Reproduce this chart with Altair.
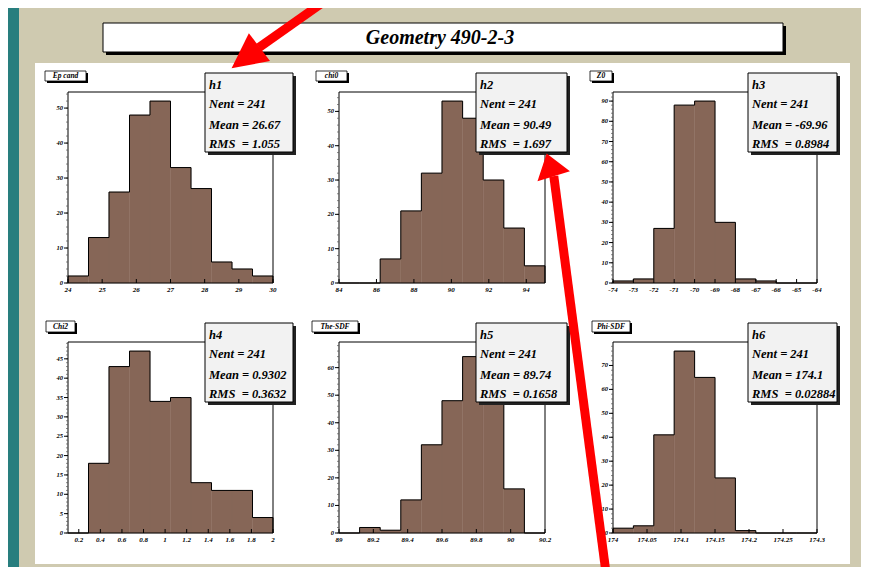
import altair as alt
import pandas as pd

# ---------------- data ----------------
title_text = "Geometry 490-2-3"
hist_names = ["h1", "h2", "h3", "h4", "h5", "h6"]
pad_titles = ["Ep cand", "chi0", "Z0", "Chi2", "The-SDF", "Phi-SDF"]
x_ranges = [[24, 30], [84, 95], [-74, -64], [0.1, 2.0], [89, 90.2], [174, 174.3]]

h1_counts = [2, 13, 26, 48, 52, 33, 27, 6, 4, 2]
h2_counts = [0, 0, 7, 21, 32, 53, 48, 30, 16, 5]
h3_counts = [1, 2, 27, 88, 90, 30, 2, 1, 0, 0]
h4_counts = [0, 18, 43, 47, 34, 35, 13, 11, 11, 4]
h5_counts = [0, 2, 1, 12, 32, 48, 64, 66, 16, 0]
h6_counts = [2, 3, 41, 76, 65, 23, 1, 0, 0, 0]
counts = [h1_counts, h2_counts, h3_counts, h4_counts, h5_counts, h6_counts]

x_tick_values = [
    [24, 25, 26, 27, 28, 29, 30],
    [84, 86, 88, 90, 92, 94],
    [-74, -73, -72, -71, -70, -69, -68, -67, -66, -65, -64],
    [0.2, 0.4, 0.6, 0.8, 1.0, 1.2, 1.4, 1.6, 1.8, 2.0],
    [89.0, 89.2, 89.4, 89.6, 89.8, 90.0, 90.2],
    [174.0, 174.05, 174.1, 174.15, 174.2, 174.25, 174.3],
]
x_tick_labels = [
    ["24", "25", "26", "27", "28", "29", "30"],
    ["84", "86", "88", "90", "92", "94"],
    ["-74", "-73", "-72", "-71", "-70", "-69", "-68", "-67", "-66", "-65", "-64"],
    ["0.2", "0.4", "0.6", "0.8", "1", "1.2", "1.4", "1.6", "1.8", "2"],
    ["89", "89.2", "89.4", "89.6", "89.8", "90", "90.2"],
    ["174", "174.05", "174.1", "174.15", "174.2", "174.25", "174.3"],
]
y_tick_values = [
    [0, 10, 20, 30, 40, 50],
    [0, 10, 20, 30, 40, 50],
    [0, 10, 20, 30, 40, 50, 60, 70, 80, 90],
    [0, 5, 10, 15, 20, 25, 30, 35, 40, 45],
    [0, 10, 20, 30, 40, 50, 60],
    [0, 10, 20, 30, 40, 50, 60, 70],
]
nent_values = ["241", "241", "241", "241", "241", "241"]
mean_values = ["26.67", "90.49", "-69.96", "0.9302", "89.74", "174.1"]
rms_values = ["1.055", "1.697", "0.8984", "0.3632", "0.1658", "0.02884"]

# ---------------- layout / style ----------------
W, H = 853, 559
FONT = "Liberation Serif, Times New Roman, serif"
BROWN = "#866657"
BEIGE = "#cfcab0"
TEAL = "#287e7e"
RED = "#ff0000"
COL_L = [60, 331, 605]
COL_R = [265, 537, 809]
ROW_T = [84, 334]
ROW_B = [275, 525]
STAT_L = [197, 468, 740]
STAT_R = [285, 559, 829]
STAT_T = [65, 315]
STAT_B = [144, 394]
PADLAB_X = [(37, 78), (308, 339), (582, 604), (38, 67), (304, 350), (584, 622)]
PADLAB_T = [63, 313]
PADLAB_B = [73, 324]
NB = "\u00a0"


def px(name):
    return alt.X(name, type="quantitative", scale=None, axis=None)


def py(name):
    return alt.Y(name, type="quantitative", scale=None, axis=None)


def rect_layer(rows, fill, stroke=None, sw=1.0):
    df = pd.DataFrame(rows, columns=["x", "x2", "y", "y2"])
    if stroke:
        mk = alt.Chart(df).mark_rect(fill=fill, stroke=stroke, strokeWidth=sw)
    else:
        mk = alt.Chart(df).mark_rect(fill=fill, strokeWidth=0)
    return mk.encode(x=px("x"), x2="x2:Q", y=py("y"), y2="y2:Q")


def text_layer(rows, size, align="left"):
    df = pd.DataFrame(rows, columns=["x", "y", "t"])
    return alt.Chart(df).mark_text(
        font=FONT, fontStyle="italic", fontWeight="bold", fontSize=size,
        align=align, baseline="middle", color="black"
    ).encode(x=px("x"), y=py("y"), text="t:N")


layers = []

# canvas decorations
layers.append(rect_layer([(0, 11, 0, H)], TEAL))
layers.append(rect_layer([(27, 842, 55, 556)], "white"))
layers.append(rect_layer([(0, W, 563, H + 5)], "#a9a27c"))

# title box
layers.append(rect_layer([(98, 778, 18, 47)], "black"))
layers.append(rect_layer([(95, 775, 15, 44)], "white", "black", 1))
layers.append(text_layer([(432, 30, title_text)], 20, "center"))

# pad title labels
pl_rows_sh, pl_rows, pl_txt = [], [], []
for i, (a, b) in enumerate(PADLAB_X):
    r = i // 3
    pl_rows_sh.append((a + 2, b + 2, PADLAB_T[r] + 2, PADLAB_B[r] + 2))
    pl_rows.append((a, b, PADLAB_T[r], PADLAB_B[r]))
    pl_txt.append(((a + b) / 2, (PADLAB_T[r] + PADLAB_B[r]) / 2, pad_titles[i]))
layers.append(rect_layer(pl_rows_sh, "black"))
layers.append(rect_layer(pl_rows, "white", "black", 0.8))
layers.append(text_layer(pl_txt, 7.5, "center"))


def panel(i):
    c = counts[i]
    lo, hi = x_ranges[i]
    n = len(c)
    w = (hi - lo) / n
    edges = [lo + k * w for k in range(n + 1)]
    ymax = 1.05 * max(c)
    col, row = i % 3, i // 3
    L, R, T, B = COL_L[col], COL_R[col], ROW_T[row], ROW_B[row]
    xs = alt.Scale(domain=[lo, hi], range=[L, R], nice=False, zero=False)
    ys = alt.Scale(domain=[0, ymax], range=[B, T], nice=False, zero=False)

    bars_df = pd.DataFrame({"lo": edges[:-1], "hi": edges[1:], "count": c, "zero": [0] * n})
    bars = alt.Chart(bars_df).mark_rect(fill=BROWN, stroke=BROWN, strokeWidth=0.4).encode(
        x=alt.X("lo:Q", scale=xs, axis=None), x2="hi:Q",
        y=alt.Y("count:Q", scale=ys, axis=None), y2="zero:Q")

    ox = [edges[0]] + edges[:-1] + [edges[-1], edges[-1]]
    oy = [0] + list(c) + [c[-1], 0]
    out_df = pd.DataFrame({"idx": list(range(len(ox))), "x": ox, "y": oy})
    outline = alt.Chart(out_df).mark_line(
        interpolate="step-after", color="black", strokeWidth=1).encode(
        x=alt.X("x:Q", scale=xs, axis=None), y=alt.Y("y:Q", scale=ys, axis=None),
        order="idx:Q")

    fr_df = pd.DataFrame({"a": [lo], "b": [hi], "c": [0], "d": [ymax]})
    frame = alt.Chart(fr_df).mark_rect(fill="white", fillOpacity=0, stroke="black", strokeWidth=1).encode(
        x=alt.X("a:Q", scale=xs, axis=None), x2="b:Q",
        y=alt.Y("c:Q", scale=ys, axis=None), y2="d:Q")

    yt = y_tick_values[i]
    step = yt[1] - yt[0]
    minor = []
    v = 0.0
    while v <= ymax + 1e-9:
        minor.append(v)
        v += step / 5
    ymin_df = pd.DataFrame({"v": minor})
    yminor = alt.Chart(ymin_df).mark_rule(color="#555555", strokeWidth=0.7).encode(
        x=alt.value(L - 2), x2=alt.value(L),
        y=alt.Y("v:Q", scale=ys, axis=None))
    yt_df = pd.DataFrame({"v": yt, "t": [str(t) for t in yt]})
    ytick = alt.Chart(yt_df).mark_rule(color="black", strokeWidth=1).encode(
        x=alt.value(L - 4), x2=alt.value(L),
        y=alt.Y("v:Q", scale=ys, axis=None))
    ylab = alt.Chart(yt_df).mark_text(
        font=FONT, fontStyle="italic", fontWeight="bold", fontSize=6.5,
        align="right", baseline="middle", color="black").encode(
        x=alt.value(L - 5), y=alt.Y("v:Q", scale=ys, axis=None), text="t:N")

    xt_df = pd.DataFrame({"v": x_tick_values[i], "t": x_tick_labels[i]})
    xtick = alt.Chart(xt_df).mark_rule(color="black", strokeWidth=1).encode(
        x=alt.X("v:Q", scale=xs, axis=None), y=alt.value(B), y2=alt.value(B - 4))
    xlab = alt.Chart(xt_df).mark_text(
        font=FONT, fontStyle="italic", fontWeight="bold", fontSize=7,
        align="center", baseline="middle", color="black").encode(
        x=alt.X("v:Q", scale=xs, axis=None), y=alt.value(B + 7), text="t:N")

    return alt.layer(bars, outline, frame, yminor, ytick, ylab, xtick, xlab)


for i in range(6):
    layers.append(panel(i))

# stat boxes
sb_sh, sb, st_txt = [], [], []
for i in range(6):
    col, row = i % 3, i // 3
    L, R, T, B = STAT_L[col], STAT_R[col], STAT_T[row], STAT_B[row]
    sb_sh.append((L + 3, R + 3, T + 3, B + 3))
    sb.append((L, R, T, B))
    st_txt.append((L + 4, T + 12, hist_names[i]))
    st_txt.append((L + 4, T + 31, "Nent" + NB + "=" + NB + nent_values[i]))
    st_txt.append((L + 4, T + 52, "Mean" + NB + "=" + NB + mean_values[i]))
    st_txt.append((L + 4, T + 71, "RMS" + NB + NB + "=" + NB + rms_values[i]))
layers.append(rect_layer(sb_sh, "#222222"))
layers.append(rect_layer(sb, "#f2f2f2", "black", 1))
layers.append(text_layer(st_txt, 12.5, "left"))

# red arrows
shaft_df = pd.DataFrame({"x": [251, 545.8], "y": [39.5, 168.2], "x2": [324, 600], "y2": [-12, 580]})
layers.append(alt.Chart(shaft_df).mark_rule(color=RED, strokeWidth=9, strokeCap="butt").encode(
    x=px("x"), y=py("y"), x2="x2:Q", y2="y2:Q"))
head1 = pd.DataFrame({"x": [237.5], "y": [49.7]})
layers.append(alt.Chart(head1).mark_point(
    shape="M0,-1L1,1L-1,1Z", filled=True, color=RED, opacity=1, size=1225, angle=232.8,
    strokeWidth=0).encode(x=px("x"), y=py("y")))
head2 = pd.DataFrame({"x": [542.2], "y": [156.8]})
layers.append(alt.Chart(head2).mark_point(
    shape="M0,-0.7L1,0.7L-1,0.7Z", filled=True, color=RED, opacity=1, size=1156, angle=342.8,
    strokeWidth=0).encode(x=px("x"), y=py("y")))

chart = alt.layer(*layers).resolve_scale(x="independent", y="independent").properties(
    width=W, height=H, autosize=alt.AutoSizeParams(type="none"), padding=0,
    background=BEIGE).configure_view(strokeWidth=0)

chart.save("out.html", embed_options={"renderer": "svg", "actions": False})
